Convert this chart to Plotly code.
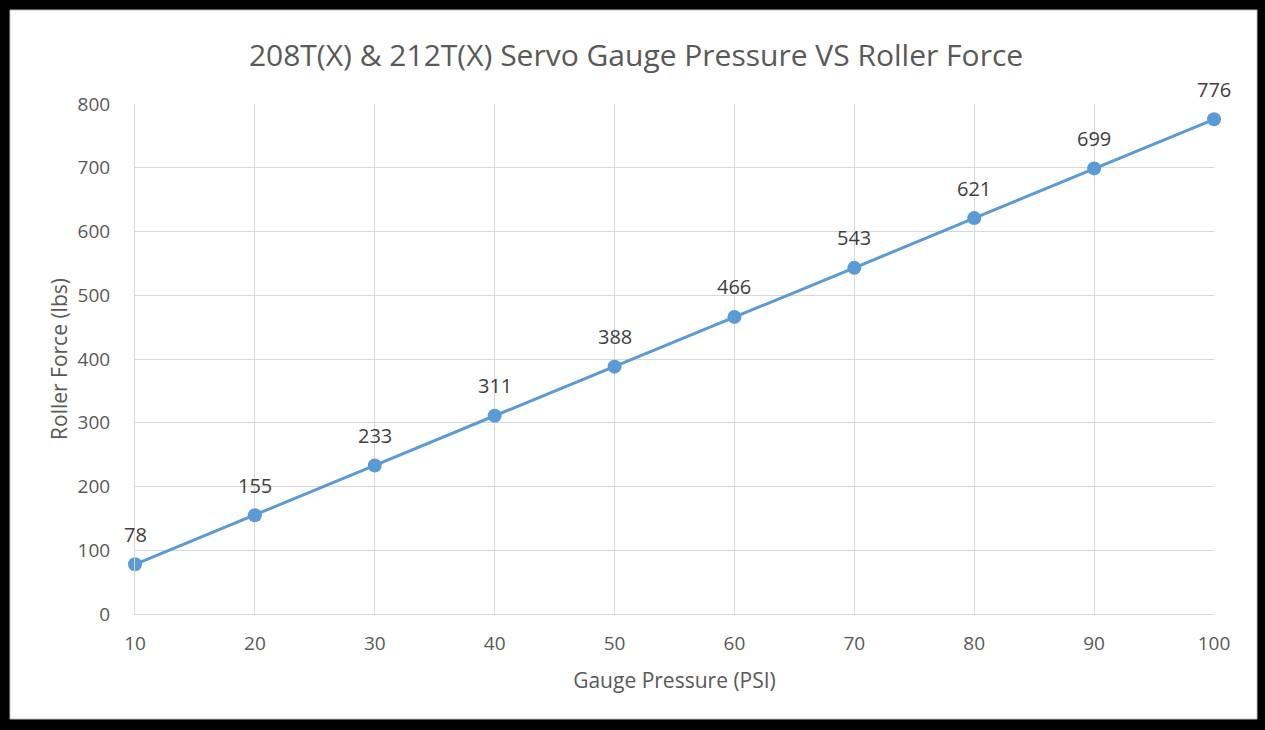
import plotly.graph_objects as go

pressure = [10, 20, 30, 40, 50, 60, 70, 80, 90, 100]
force = [78, 155, 233, 311, 388, 466, 543, 621, 699, 776]
x_ticks = [10, 20, 30, 40, 50, 60, 70, 80, 90, 100]
y_ticks = [0, 100, 200, 300, 400, 500, 600, 700, 800]

W, H = 1265, 730
L, R, T, B = 135, 51, 104, 116
pw, ph = W - L - R, H - T - B

def px_x(x):
    return (x - L) / pw

def px_y(y):
    return (H - B - y) / ph

FONT = "Open Sans"
GRAY = "#595959"
BLUE = "#5b9bd5"

fig = go.Figure()
fig.add_trace(go.Scatter(
    x=pressure, y=force, mode="lines+markers",
    line=dict(color=BLUE, width=3),
    marker=dict(color=BLUE, size=14),
    showlegend=False, hoverinfo="x+y", cliponaxis=False,
))

for xv, yv in zip(pressure, force):
    fig.add_annotation(x=xv, y=yv, text=str(yv), showarrow=False,
                       yshift=30, font=dict(family=FONT, size=20, color="#404040"))

fig.add_shape(type="rect", xref="paper", yref="paper",
              x0=px_x(10), x1=px_x(1257), y0=px_y(10), y1=px_y(719),
              fillcolor="white", line=dict(color="#bfbfbf", width=1), layer="below")

fig.update_layout(
    width=W, height=H,
    margin=dict(l=L, r=R, t=T, b=B),
    paper_bgcolor="black", plot_bgcolor="white",
    title=dict(text="208T(X) & 212T(X) Servo Gauge Pressure VS Roller Force",
               x=636 / W, xanchor="center", xref="container",
               y=1 - 55 / H, yref="container", yanchor="middle",
               font=dict(family=FONT, size=30, color=GRAY)),
    font=dict(family=FONT, color=GRAY),
)
fig.update_xaxes(range=[10, 100], tickvals=x_ticks, showgrid=True,
                 gridcolor="#d9d9d9", gridwidth=1, zeroline=False,
                 showline=True, linecolor="#d9d9d9", linewidth=1, mirror=False,
                 ticks="", ticklabelstandoff=12,
                 tickfont=dict(family=FONT, size=19, color=GRAY),
                 title=dict(text="Gauge Pressure (PSI)", standoff=18,
                            font=dict(family=FONT, size=21, color=GRAY)))
fig.update_yaxes(range=[0, 800], tickvals=y_ticks, showgrid=True,
                 gridcolor="#d9d9d9", gridwidth=1, zeroline=False,
                 showline=True, linecolor="#d9d9d9", linewidth=1,
                 ticks="", ticklabelstandoff=20,
                 tickfont=dict(family=FONT, size=19, color=GRAY),
                 title=dict(text="Roller Force (lbs)", standoff=4,
                            font=dict(family=FONT, size=21, color=GRAY)))

fig.write_html("out.html", config={"displayModeBar": False},
               post_script="document.body.style.margin='0';document.body.style.background='black';")
